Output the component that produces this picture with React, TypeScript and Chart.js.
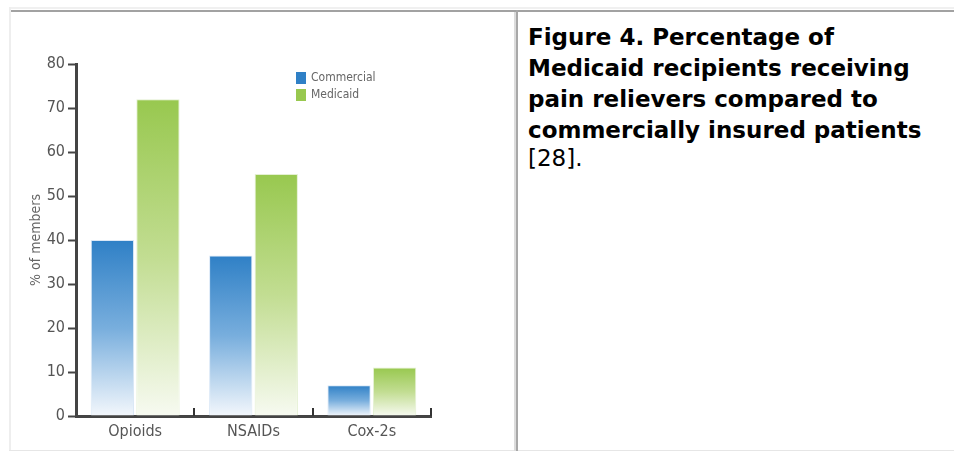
import React, { useEffect, useRef } from "react";
import { Chart, registerables } from "chart.js";

Chart.register(...registerables);

const categories = ["Opioids", "NSAIDs", "Cox-2s"];
const commercialValues = [40, 36.5, 7];
const medicaidValues = [72, 55, 11];
const seriesNames = ["Commercial", "Medicaid"];
const yTitle = "% of members";
const captionBold = "Figure 4. Percentage of Medicaid recipients receiving pain relievers compared to commercially insured patients";
const captionRef = "[28].";

const NARROW = "'Liberation Sans Narrow', 'DejaVu Sans Condensed', 'Arial Narrow', sans-serif";

const BLUE = ["#2f80c6", "#78aedd", "#f3f7fc"];
const GREEN = ["#98c84f", "#c2dd92", "#f7faf1"];

function makeGradient(stops: string[]) {
  return (ctx: any) => {
    const chart = ctx.chart;
    const yScale = chart.scales && chart.scales.y;
    if (!yScale || ctx.raw === undefined || !chart.chartArea) return stops[0];
    const top = yScale.getPixelForValue(ctx.raw);
    const base = yScale.getPixelForValue(0);
    if (!isFinite(top) || !isFinite(base) || base - top < 1) return stops[0];
    const g = chart.ctx.createLinearGradient(0, top, 0, base);
    g.addColorStop(0, stops[0]);
    g.addColorStop(0.5, stops[1]);
    g.addColorStop(1, stops[2]);
    return g;
  };
}

const decorPlugin = {
  id: "decor",
  afterDraw(chart: any) {
    const { ctx, chartArea } = chart;
    const x = chart.scales.x;
    // upward ticks at category boundaries
    const step = x.getPixelForValue(1) - x.getPixelForValue(0);
    ctx.save();
    ctx.strokeStyle = "#333";
    ctx.lineWidth = 2;
    for (let i = 0; i < categories.length; i++) {
      const bx = Math.round(x.getPixelForValue(i) + step / 2);
      ctx.beginPath();
      ctx.moveTo(bx, chartArea.bottom);
      ctx.lineTo(bx, chartArea.bottom - 8);
      ctx.stroke();
    }
    // y title
    ctx.fillStyle = "#666";
    ctx.font = "14px " + NARROW;
    ctx.textAlign = "center";
    ctx.textBaseline = "middle";
    ctx.translate(25, (chartArea.top + chartArea.bottom) / 2);
    ctx.rotate(-Math.PI / 2);
    ctx.fillText(yTitle, 0, 0);
    ctx.restore();
    // legend
    ctx.save();
    const lx = chartArea.left + 220;
    const ly = chartArea.top + 8;
    const colors = [BLUE[0], GREEN[0]];
    ctx.font = "12px " + NARROW;
    ctx.textBaseline = "middle";
    ctx.textAlign = "left";
    seriesNames.forEach((name, i) => {
      const yy = ly + i * 17;
      ctx.fillStyle = colors[i];
      ctx.fillRect(lx, yy, 10, 12);
      ctx.fillStyle = "#666";
      ctx.fillText(name, lx + 15, yy + 6);
    });
    ctx.restore();
  },
};

export default function App() {
  const ref = useRef<HTMLCanvasElement>(null);
  useEffect(() => {
    if (!ref.current) return;
    const chart = new Chart(ref.current, {
      type: "bar",
      data: {
        labels: categories,
        datasets: [
          {
            label: seriesNames[0],
            data: commercialValues,
            backgroundColor: makeGradient(BLUE),
            borderColor: "rgba(215,230,245,0.9)",
            borderWidth: 1,
            categoryPercentage: 0.77,
            barPercentage: 0.95,
          },
          {
            label: seriesNames[1],
            data: medicaidValues,
            backgroundColor: makeGradient(GREEN),
            borderColor: "rgba(225,238,205,0.9)",
            borderWidth: 1,
            categoryPercentage: 0.77,
            barPercentage: 0.95,
          },
        ],
      },
      options: {
        responsive: false,
        animation: false,
        layout: { padding: { left: 0, right: 83, top: 52, bottom: 0 } },
        plugins: { legend: { display: false }, tooltip: { enabled: false } },
        scales: {
          x: {
            grid: { drawOnChartArea: false, drawTicks: false },
            border: { color: "#444", width: 3 },
            ticks: { color: "#555", font: { size: 16, family: NARROW }, padding: 6 },
            afterFit: (s: any) => {
              s.height = 34;
            },
          },
          y: {
            min: 0,
            max: 80,
            ticks: { stepSize: 10, color: "#555", font: { size: 16, family: NARROW }, padding: 3 },
            grid: { drawOnChartArea: false, tickLength: 8, tickColor: "#444", tickWidth: 2 },
            border: { color: "#444", width: 3 },
            afterFit: (s: any) => {
              s.width = 65;
            },
          },
        },
      },
      plugins: [decorPlugin],
    } as any);
    return () => chart.destroy();
  }, []);

  const abs = (o: React.CSSProperties): React.CSSProperties => ({ position: "absolute", ...o });

  return (
    <div style={{ position: "fixed", left: 0, top: 0, width: 954, height: 451, background: "#fff", overflow: "hidden" }}>
      <div style={abs({ left: 9, top: 7, width: 945, height: 2, background: "#f0f0f0" })} />
      <div style={abs({ left: 9, top: 10, width: 945, height: 2, background: "#a2a2a2" })} />
      <div style={abs({ left: 9, top: 7, width: 2, height: 444, background: "#eeeeee" })} />
      <div style={abs({ left: 9, top: 450, width: 945, height: 1, background: "#e6e6e6" })} />
      <div style={abs({ left: 514, top: 12, width: 2, height: 439, background: "#dcdcdc" })} />
      <div style={abs({ left: 516, top: 10, width: 2, height: 441, background: "#a8a8a8" })} />
      <div style={abs({ left: 11, top: 12, width: 503, height: 438 })}>
        <canvas ref={ref} width={503} height={438} style={{ display: "block" }} />
      </div>
      <div
        style={abs({
          left: 528,
          top: 22,
          width: 420,
          fontFamily: "'DejaVu Sans', Verdana, sans-serif",
          fontSize: 23,
          color: "#000",
        })}
      >
        <div style={{ fontWeight: "bold", lineHeight: "31px" }}>{captionBold}</div>
        <div style={{ lineHeight: "24px" }}>{captionRef}</div>
      </div>
    </div>
  );
}
